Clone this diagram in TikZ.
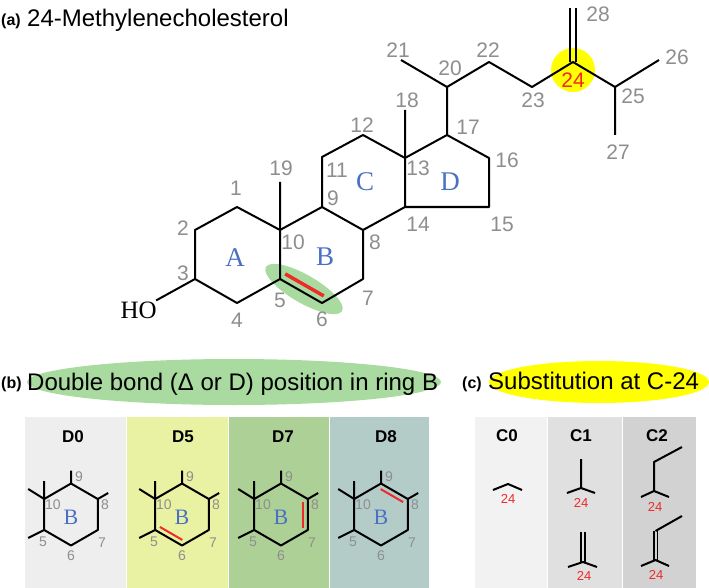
\documentclass[tikz,border=0pt]{standalone}
\usepackage{fontspec}
\setmainfont{Liberation Sans}
\newfontfamily\ringfont{Liberation Serif}
\usetikzlibrary{calc}
\definecolor{numgray}{HTML}{8E8E8E}
\definecolor{ringblue}{HTML}{4A70C4}
\definecolor{bondred}{HTML}{EE2A2A}
\definecolor{hlgreen}{HTML}{A9DBA0}
\definecolor{hlyellow}{HTML}{FFFF00}
\definecolor{dzero}{HTML}{EEEEEE}
\definecolor{dfive}{HTML}{E8F2A2}
\definecolor{dseven}{HTML}{ADD096}
\definecolor{deight}{HTML}{B4CCC8}
\definecolor{czero}{HTML}{F2F2F2}
\definecolor{cone}{HTML}{E0E0E0}
\definecolor{ctwo}{HTML}{D2D2D2}
\newcommand\fs[1]{\fontsize{#1}{#1}\selectfont}
\newcommand\innerbond[5]{\draw[bondred,line width=#1] ($(#2)!#4!(#3)!#5!90:(#3)$)--($(#3)!#4!(#2)!#5!-90:(#2)$);}
\begin{document}
\begin{tikzpicture}[x=1pt,y=-1pt,
  bond/.style={line width=2pt,line join=round},
  numlbl/.style={text=numgray,inner sep=0pt,font=\fs{21}},
  smlbl/.style={text=numgray,inner sep=0pt,font=\fs{14}},
  redsm/.style={text=bondred,inner sep=0pt,font=\fs{13}},
  ringlbl/.style={text=ringblue,inner sep=0pt,font=\ringfont\fs{27}},
  ringsm/.style={text=ringblue,inner sep=0pt,font=\ringfont\fs{22}},
  hdlbl/.style={inner sep=0pt,font=\bfseries\fs{17}},
  tag/.style={anchor=base west,inner sep=0pt,font=\bfseries\fs{16}},
  ttl/.style={anchor=base west,inner sep=0pt,font=\fs{24}}]
\useasboundingbox[fill=white] (0,0) rectangle (709,588);
\node[tag] (taga) at (1,26) {(a)};
\node[ttl] (ttla) at (27,27) {24-Methylenecholesterol};
\fill[hlgreen,rotate around={-30:(304,289)}] (304,289) ellipse[x radius=44,y radius=14];
\fill[hlyellow] (573,70) circle[radius=22];
\foreach \n/\x/\y in {1/237/207,2/195/230,3/195/279,4/237/303,5/280/279,6/322/303,7/363/279,8/363/230,9/322/207,10/280/230,11/322/157,12/363/135,13/405/158,14/405/207,15/489/207,16/489/158,17/447/135,18/405/110,19/280/182,20/447/87,21/401/60,22/489/62,23/532/87,24/573/62,25/615/87,26/659/60,27/615/135,28/573/8}
  \coordinate (c\n) at (\x,\y);
\node[anchor=east,inner sep=1pt,font=\ringfont\fs{25}] (ho) at (158,310) {HO};
\draw[bond] (c10)--(c1)--(c2)--(c3)--(c4)--(c5)--(c10)--(c9)--(c8)--(c7)--(c6)--(c5);
\draw[bond] (c9)--(c11)--(c12)--(c13)--(c14)--(c8) (c13)--(c17)--(c16)--(c15)--(c14);
\draw[bond] (c10)--(c19) (c13)--(c18) (c3)--(ho);
\draw[bond] (c17)--(c20)--(c21) (c20)--(c22)--(c23)--(c24)--(c25)--(c26) (c25)--(c27);
\draw[bond] ([xshift=-3pt]c24)--([xshift=-3pt]c28) ([xshift=3pt]c24)--([xshift=3pt]c28);
\innerbond{3.5pt}{c5}{c6}{2pt}{7pt}
\foreach \n/\x/\y in {1/236/188,2/183/228,3/183/273,4/237/320,5/280/300,6/322/319,7/368/298,8/375/242,9/333/198,10/293/242,11/337/170,12/362/125,13/418/168,14/418/224,15/502/224,16/507/160,17/468/127,18/407/100,19/281/168,20/450/68,21/398/50,22/488/50,23/533/100,25/633/96,26/677/57,27/618/152,28/598/14}
  \node[numlbl] (n\n) at (\x,\y) {\n};
\node[numlbl,text=bondred] (n24) at (573,80) {24};
\node[ringlbl] (ra) at (235,258) {A};
\node[ringlbl] (rb) at (325,257) {B};
\node[ringlbl] (rc) at (365,182) {C};
\node[ringlbl] (rd) at (450,182) {D};
\fill[hlgreen] (234,382) ellipse[x radius=207,y radius=23];
\node[tag] (tagb) at (1,388) {(b)};
\node[ttl] (ttlb) at (27,390) {Double bond (Δ or D) position in ring B};
\fill[hlyellow] (599,382) ellipse[x radius=110,y radius=21];
\node[tag] (tagc) at (462,388) {(c)};
\node[ttl] (ttlc) at (488,389) {Substitution at C-24};
\foreach \xa/\xb/\col in {25/126/dzero,127/228/dfive,228.5/329/dseven,330/429/deight,475/547/czero,548/622/cone,623/696/ctwo}
  \fill[\col] (\xa,417) rectangle (\xb,588);
\foreach \cx/\hx/\nm in {71/73/D0,182/183/D5,281/283/D7,381/386/D8}{
  \node[hdlbl] (h\nm) at (\hx,437) {\nm};
  \begin{scope}[shift={(\cx,514.5)}]
    \coordinate (\nm-9) at (0,-31);
    \coordinate (\nm-8) at (26.8,-15.5);
    \coordinate (\nm-7) at (26.8,15.5);
    \coordinate (\nm-6) at (0,31);
    \coordinate (\nm-5) at (-26.8,15.5);
    \coordinate (\nm-10) at (-26.8,-15.5);
    \draw[bond] (\nm-9)--(\nm-8)--(\nm-7)--(\nm-6)--(\nm-5)--(\nm-10)--cycle;
    \draw[bond] (\nm-9)--++(0,-13) (\nm-8)--++(10.4,-6) (\nm-10)--++(0,-18) (\nm-10)--++(-16,-10) (\nm-5)--++(-16,8);
    \foreach \k/\lx/\ly in {9/8/-37.5,8/34/-9.5,7/31/28.5,6/0/41.5,5/-28/27.5,10/-18/-9.5}
      \node[smlbl] (\nm-n\k) at (\lx,\ly) {\k};
    \node[ringsm] (\nm-b) at (0,2.5) {B};
  \end{scope}}
\innerbond{2pt}{D5-5}{D5-6}{2.5pt}{5pt}
\innerbond{2pt}{D7-7}{D7-8}{2.5pt}{5pt}
\innerbond{2pt}{D8-8}{D8-9}{2.5pt}{5pt}
\foreach \hx/\nm in {507/C0,581/C1,657/C2}
  \node[hdlbl] (h\nm) at (\hx,436) {\nm};
\coordinate (a0l) at (493,490); \coordinate (a0m) at (508,484); \coordinate (a0r) at (522,490);
\draw[bond] (a0l)--(a0m)--(a0r);
\node[redsm] (r0) at (508,499) {24};
\coordinate (a1m) at (581,488); \coordinate (a1u) at (581,459);
\coordinate (a1l) at (567,493); \coordinate (a1r) at (595,493);
\draw[bond] (a1l)--(a1m)--(a1r) (a1m)--(a1u);
\node[redsm] (r1a) at (581,503) {24};
\coordinate (b1m) at (583,562); \coordinate (b1u) at (583,532);
\coordinate (b1l) at (568,567); \coordinate (b1r) at (597,567);
\draw[bond] (b1l)--(b1m)--(b1r);
\draw[bond,line width=1.8pt] ([xshift=-2pt]b1m)--([xshift=-2pt]b1u) ([xshift=2pt]b1m)--([xshift=2pt]b1u);
\node[redsm] (r1b) at (584,576) {24};
\coordinate (a2m) at (654,491); \coordinate (a2l) at (641,497); \coordinate (a2r) at (669,497);
\coordinate (a2u) at (654,462); \coordinate (a2e) at (682,447);
\draw[bond] (a2l)--(a2m)--(a2r) (a2m)--(a2u)--(a2e);
\node[redsm] (r2a) at (655,507) {24};
\coordinate (b2m) at (655.5,560); \coordinate (b2l) at (641,566); \coordinate (b2r) at (669,566);
\coordinate (b2u) at (655.5,531); \coordinate (b2e) at (682,516);
\draw[bond] (b2l)--(b2m)--(b2r) (b2u)--(b2e);
\draw[bond,line width=1.8pt] ([xshift=-1.9pt]b2m)--([xshift=-1.9pt]b2u) ([xshift=1.9pt]b2m)--([xshift=1.9pt]b2u);
\node[redsm] (r2b) at (656,575) {24};
\end{tikzpicture}
\end{document}
